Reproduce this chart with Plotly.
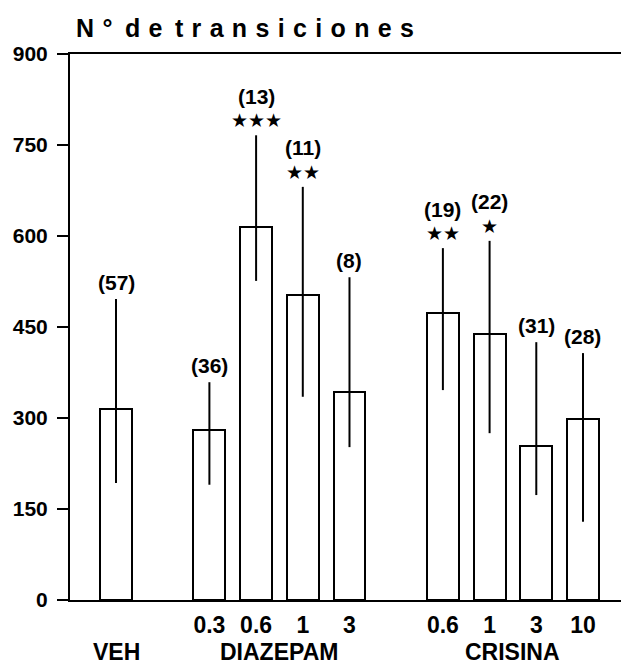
import plotly.graph_objects as go

# Treatment groups and the dose of each bar (mg/kg)
groups = ["VEH", "DIAZEPAM", "CRISINA"]
group_doses = [[""], ["0.3", "0.6", "1", "3"], ["0.6", "1", "3", "10"]]

# Number of transitions: bar value and upper / lower whisker length
means = [315, 280, 615, 503, 343, 473, 438, 254, 298]
err_plus = [181, 79, 151, 178, 189, 107, 154, 171, 109]
err_minus = [122, 90, 89, 168, 91, 127, 163, 81, 169]

# Animals per group and significance level (number of stars)
n_counts = [57, 36, 13, 11, 8, 19, 22, 31, 28]
signif = [0, 0, 3, 2, 0, 2, 1, 0, 0]

y_ticks = [0, 150, 300, 450, 600, 750, 900]

# Slot positions: bars of a group side by side, one empty slot between groups
positions, dose_text, group_centres = [], [], []
slot = 0
for doses in group_doses:
    start = slot
    for d in doses:
        positions.append(slot)
        dose_text.append(d)
        slot += 1
    group_centres.append((start + slot - 1) / 2)
    slot += 1

FONT = "Liberation Sans, Arial, sans-serif"
BLACK = "#000000"

fig = go.Figure()
fig.add_trace(go.Bar(
    x=positions,
    y=means,
    width=0.685,
    marker=dict(color="white", line=dict(color=BLACK, width=2)),
    error_y=dict(type="data", symmetric=False, array=err_plus,
                 arrayminus=err_minus, color=BLACK, thickness=2, width=0),
    showlegend=False,
    hoverinfo="skip",
))

annotations = []
for x, m, ep, n, s in zip(positions, means, err_plus, n_counts, signif):
    top = m + ep
    if s:
        annotations.append(dict(
            x=x, y=top, xref="x", yref="y", text="★" * s, showarrow=False,
            yanchor="middle", yshift=15,
            font=dict(family="DejaVu Sans", size=19, color=BLACK)))
        label_shift = 39
    else:
        label_shift = 17
    annotations.append(dict(
        x=x, y=top, xref="x", yref="y", text=f"({n})", showarrow=False,
        yanchor="middle", yshift=label_shift,
        font=dict(family=FONT, size=21, color=BLACK, weight="bold")))

# Group names under the dose labels, kept inside the canvas
for name, c in zip(groups, group_centres):
    annotations.append(dict(
        x=c, y=0, xref="x", yref="paper", text=name, showarrow=False,
        yanchor="bottom", yshift=-66, borderpad=0,
        font=dict(family=FONT, size=23, color=BLACK, weight="bold")))

# Spaced-out axis title
title_words = ["N°", "de", "transiciones"]
title = "\u2002".join("\u2004".join(w) for w in title_words)
annotations.append(dict(
    x=0.3185, y=1, xref="paper", yref="paper", text=title, showarrow=False,
    xanchor="center", yanchor="middle", yshift=26,
    font=dict(family=FONT, size=25, color=BLACK, weight="bold")))

fig.update_layout(
    width=621, height=666, autosize=False,
    margin=dict(l=70, r=0, t=54, b=66, pad=0),
    plot_bgcolor="white", paper_bgcolor="white",
    annotations=annotations,
    bargap=0,
)
fig.update_xaxes(
    range=[-0.985, 10.814],
    tickvals=[p for p, d in zip(positions, dose_text) if d],
    ticktext=[d for d in dose_text if d],
    ticks="", showgrid=False, zeroline=False,
    showline=True, linecolor=BLACK, linewidth=2, mirror=True,
    tickfont=dict(family=FONT, size=23, color=BLACK, weight="bold"),
    ticklabelstandoff=3,
)
fig.update_yaxes(
    range=[0, 900], tickvals=y_ticks,
    ticks="outside", ticklen=11, tickwidth=2, tickcolor=BLACK,
    showgrid=False, zeroline=False,
    showline=True, linecolor=BLACK, linewidth=2, mirror=False,
    tickfont=dict(family=FONT, size=21, color=BLACK, weight="bold"),
    ticklabelstandoff=5,
)

fig.write_html("out.html", config={"displayModeBar": False})
